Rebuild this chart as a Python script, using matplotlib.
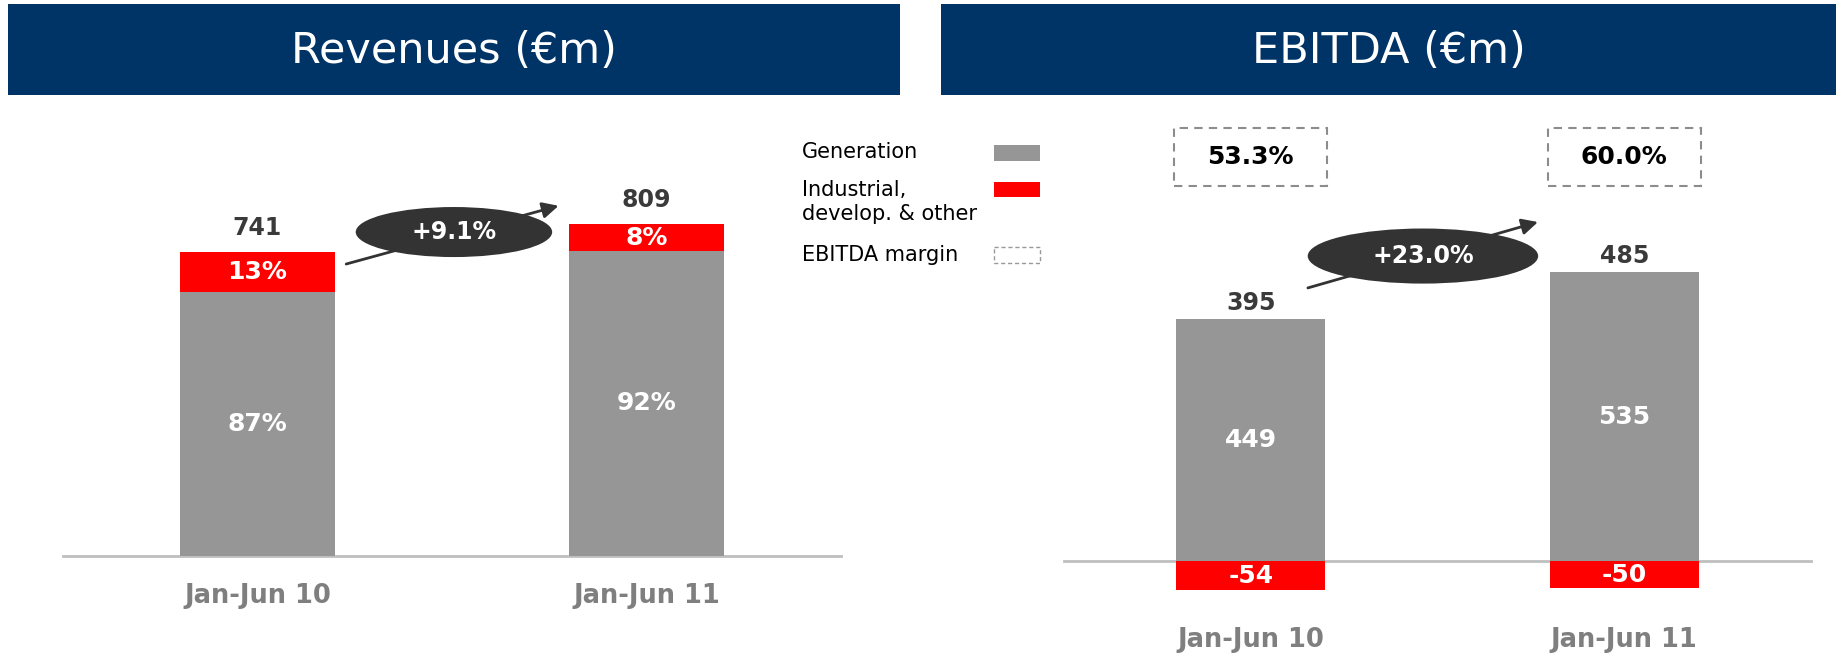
import numpy as np
import matplotlib.pyplot as plt
from matplotlib.patches import Rectangle, Ellipse
from matplotlib.transforms import Bbox, TransformedBbox

# periods shown on both charts
periods = ['Jan-Jun 10', 'Jan-Jun 11']

# revenues (€m) and share by business
revenue_total = [741, 809]
revenue_gen_pct = [87, 92]
revenue_other_pct = [13, 8]
revenue_growth = '+9.1%'

# EBITDA (€m) by business
ebitda_gen = [449, 535]
ebitda_other = [-54, -50]
ebitda_total = [395, 485]
ebitda_margin = ['53.3%', '60.0%']
ebitda_growth = '+23.0%'

NAVY = '#003366'
GRAY = '#969696'
RED = '#FF0000'
DARK = '#3a3a3a'
AXIS = '#BFBFBF'

W, H = 1836, 654
fig = plt.figure(figsize=(W / 100, H / 100), dpi=100)


def px_axes(x0, y0, x1, y1):
    # axes placed from a pixel box measured from the top-left corner
    return fig.add_axes([x0 / W, 1 - y1 / H, (x1 - x0) / W, (y1 - y0) / H])


# background canvas for headers and legend
canvas = px_axes(0, 0, W, H)
canvas.set_xlim(0, W)
canvas.set_ylim(H, 0)
canvas.axis('off')

for x0, x1, title in [(8, 900, 'Revenues (€m)'), (941, W, 'EBITDA (€m)')]:
    canvas.add_patch(Rectangle((x0, 4), x1 - x0, 91, color=NAVY, lw=0))
    canvas.text((x0 + x1) / 2, 51, title, color='white', fontsize=31,
                ha='center', va='center')

# legend: label on the left, swatch on the right
canvas.text(802, 152, 'Generation', fontsize=15, va='center', color='black')
canvas.text(802, 202, 'Industrial,\ndevelop. & other', fontsize=15,
            va='center', color='black', linespacing=1.3)
canvas.text(802, 255, 'EBITDA margin', fontsize=15, va='center', color='black')
canvas.add_patch(Rectangle((994, 145), 46, 16, color=GRAY, lw=0))
canvas.add_patch(Rectangle((994, 182), 46, 15, color=RED, lw=0))
canvas.add_patch(Rectangle((994, 247), 46, 16, fill=False, ec='#999999',
                           ls=(0, (3, 2)), lw=1))

x = np.arange(len(periods))
width = 0.4


def segment_label(ax, rect, text):
    # white label kept inside its bar segment
    y0 = rect.get_y()
    y1 = y0 + rect.get_height()
    t = ax.text(rect.get_x() + rect.get_width() / 2, (y0 + y1) / 2, text,
                ha='center', va='center', color='white', fontsize=18,
                fontweight='bold', clip_on=True, zorder=3)
    box = Bbox.from_extents(rect.get_x(), min(y0, y1),
                            rect.get_x() + rect.get_width(), max(y0, y1))
    t.set_clip_path(None)
    t.set_clip_box(TransformedBbox(box, ax.transData))


def style_axis(ax, xlabel_offset):
    ax.set_xlim(-0.5, 1.5)
    ax.axis('off')
    ax.axhline(0, color=AXIS, lw=2, zorder=0.5, clip_on=False)
    for xi, p in zip(x, periods):
        ax.annotate(p, (xi, 0), xytext=(0, -xlabel_offset),
                    textcoords='offset pixels', ha='center', va='center',
                    fontsize=18.5, fontweight='bold', color='#7f7f7f')


# ---- Revenues ----
axL = px_axes(63, 100, 841, H)
axL.set_ylim(-239, 1112)
style_axis(axL, 40)

gen_rev = [t * p / 100 for t, p in zip(revenue_total, revenue_gen_pct)]
oth_rev = [t * p / 100 for t, p in zip(revenue_total, revenue_other_pct)]
bars_gen = axL.bar(x, gen_rev, width=width, color=GRAY, zorder=1)
bars_oth = axL.bar(x, oth_rev, bottom=gen_rev, width=width, color=RED, zorder=1)
for rect, pct in zip(bars_gen, revenue_gen_pct):
    segment_label(axL, rect, f'{pct}%')
for rect, pct in zip(bars_oth, revenue_other_pct):
    segment_label(axL, rect, f'{pct}%')
for xi, tot in zip(x, revenue_total):
    axL.annotate(str(tot), (xi, tot), xytext=(0, 24), textcoords='offset pixels',
                 ha='center', va='center', fontsize=17, fontweight='bold', color=DARK)

axL.annotate('', xy=(0.774, 854), xytext=(0.228, 712),
             arrowprops=dict(arrowstyle='-|>', color='#333333', lw=2,
                             mutation_scale=24, shrinkA=0, shrinkB=0), zorder=3)
axL.add_patch(Ellipse((0.505, 790), 0.505, 122, color='#333333', lw=0, zorder=4))
axL.text(0.505, 790, revenue_growth, ha='center', va='center', color='white',
         fontsize=17, fontweight='bold', zorder=5)

# ---- EBITDA ----
axR = px_axes(1064, 100, 1811, H)
axR.set_ylim(-172, 854)
style_axis(axR, 79)

bars_gen = axR.bar(x, ebitda_gen, width=width, color=GRAY, zorder=1)
bars_oth = axR.bar(x, ebitda_other, width=width, color=RED, zorder=1)
for rect, v in zip(bars_gen, ebitda_gen):
    segment_label(axR, rect, str(v))
for rect, v in zip(bars_oth, ebitda_other):
    segment_label(axR, rect, str(v))
for xi, g, tot in zip(x, ebitda_gen, ebitda_total):
    axR.annotate(str(tot), (xi, g), xytext=(0, 16), textcoords='offset pixels',
                 ha='center', va='center', fontsize=17, fontweight='bold', color=DARK)

# EBITDA margin boxes above each bar
for xi, m in zip(x, ebitda_margin):
    axR.add_patch(Rectangle((xi - 0.205, 694), 0.41, 108, fill=False,
                            ec='#8c8c8c', ls=(0, (4, 3)), lw=1.5))
    axR.text(xi, 748, m, ha='center', va='center', fontsize=18,
             fontweight='bold', color='black')

axR.annotate('', xy=(0.769, 628), xytext=(0.153, 506),
             arrowprops=dict(arrowstyle='-|>', color='#333333', lw=2,
                             mutation_scale=24, shrinkA=0, shrinkB=0), zorder=3)
axR.add_patch(Ellipse((0.461, 565), 0.617, 102, color='#333333', lw=0, zorder=4))
axR.text(0.461, 565, ebitda_growth, ha='center', va='center', color='white',
         fontsize=17, fontweight='bold', zorder=5)

fig.savefig('out.png', dpi=100)
